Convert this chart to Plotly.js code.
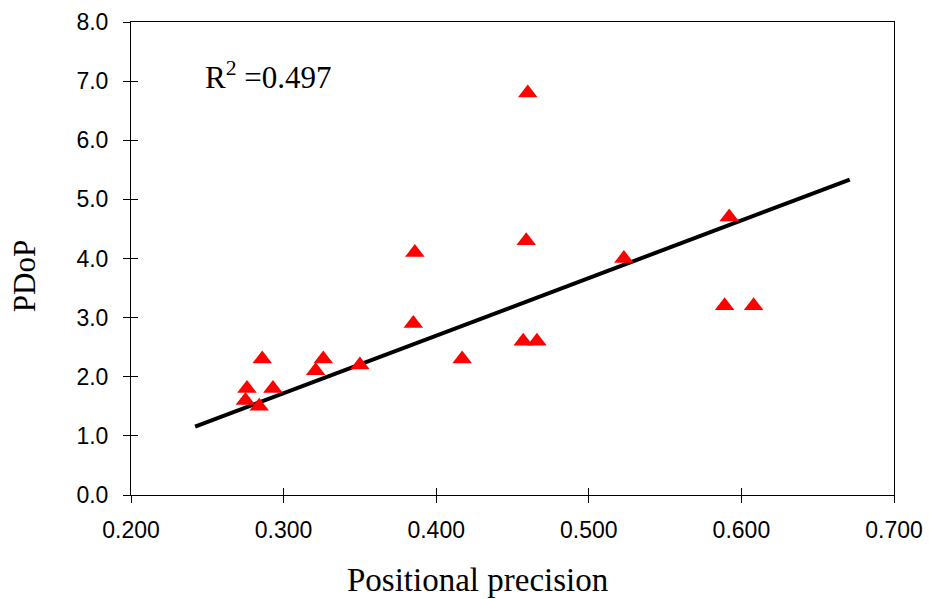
<!DOCTYPE html>
<html>
<head>
<meta charset="utf-8">
<script src="https://cdn.plot.ly/plotly-3.0.1.min.js"></script>
<style>html,body{margin:0;padding:0;background:#fff;}#chart{width:929px;height:599px;}</style>
</head>
<body>
<div id="chart"></div>
<script>
var precision = [0.460, 0.386, 0.459, 0.385, 0.417, 0.457, 0.466, 0.592, 0.523, 0.589, 0.608, 0.350, 0.321, 0.326, 0.286, 0.276, 0.275, 0.284, 0.293];
var pdop      = [6.8,   4.1,   4.3,   2.9,   2.3,   2.6,   2.6,   4.7,   4.0,   3.2,   3.2,   2.2,   2.1,   2.3,   2.3,   1.8,   1.6,   1.5,   1.8];
// Trend line end points
var trendX = [0.242, 0.671];
var trendY = [1.155, 5.336];
var rSquared = "0.497";
var xTicks = [0.2, 0.3, 0.4, 0.5, 0.6, 0.7];
var yTicks = [0, 1, 2, 3, 4, 5, 6, 7, 8];

var serif = '"Liberation Serif", "Times New Roman", serif';
var sans = '"Liberation Sans", Arial, sans-serif';

var traces = [
  {x: trendX, y: trendY, mode: 'lines', type: 'scatter', line: {color: '#000', width: 4}, hoverinfo: 'skip'},
  {x: precision, y: pdop, mode: 'markers', type: 'scatter',
   marker: {symbol: 'triangle-up', size: 17, color: '#FF0000', line: {width: 0}}},
  {x: [0.2], y: [0], xaxis: 'x2', yaxis: 'y2', mode: 'markers', marker: {opacity: 0}, hoverinfo: 'skip'}
];

var axCommon = {
  showgrid: false, zeroline: false, showline: true, linecolor: '#000', linewidth: 1,
  ticks: 'outside', ticklen: 7, tickcolor: '#000', tickwidth: 1,
  tickfont: {family: sans, size: 23, color: '#000'}
};

var layout = {
  width: 929, height: 599,
  margin: {l: 130.7, r: 35, t: 22, b: 104},
  paper_bgcolor: '#fff', plot_bgcolor: '#fff',
  showlegend: false,
  xaxis: Object.assign({}, axCommon, {range: [0.2, 0.7], tickvals: xTicks, tickformat: '.3f', mirror: true, ticklabelstandoff: 7}),
  yaxis: Object.assign({}, axCommon, {range: [0, 8], tickvals: yTicks, tickformat: '.1f', mirror: true, ticklabelstandoff: 10}),
  xaxis2: {overlaying: 'x', range: [0.2, 0.7], tickvals: xTicks, ticks: 'inside', ticklen: 7, tickcolor: '#000',
           showticklabels: false, showgrid: false, zeroline: false, showline: false, side: 'bottom'},
  yaxis2: {overlaying: 'y', range: [0, 8], tickvals: yTicks, ticks: 'inside', ticklen: 7, tickcolor: '#000',
           showticklabels: false, showgrid: false, zeroline: false, showline: false, side: 'left'},
  annotations: [
    {x: 0.2475, y: 7.1, xref: 'x', yref: 'y', xanchor: 'left', yanchor: 'middle', showarrow: false,
     text: 'R<sup>2</sup> =' + rSquared, font: {family: serif, size: 31, color: '#000'}},
    {x: 0.4537, y: -0.18, xref: 'paper', yref: 'paper', xanchor: 'center', yanchor: 'middle', showarrow: false,
     text: 'Positional precision', font: {family: serif, size: 33, color: '#000'}},
    {x: -0.14, y: 0.463, xref: 'paper', yref: 'paper', xanchor: 'center', yanchor: 'middle', showarrow: false,
     textangle: -90, text: 'PDoP', font: {family: serif, size: 31, color: '#000'}}
  ]
};

Plotly.newPlot('chart', traces, layout, {displayModeBar: false, staticPlot: true});
</script>
</body>
</html>
